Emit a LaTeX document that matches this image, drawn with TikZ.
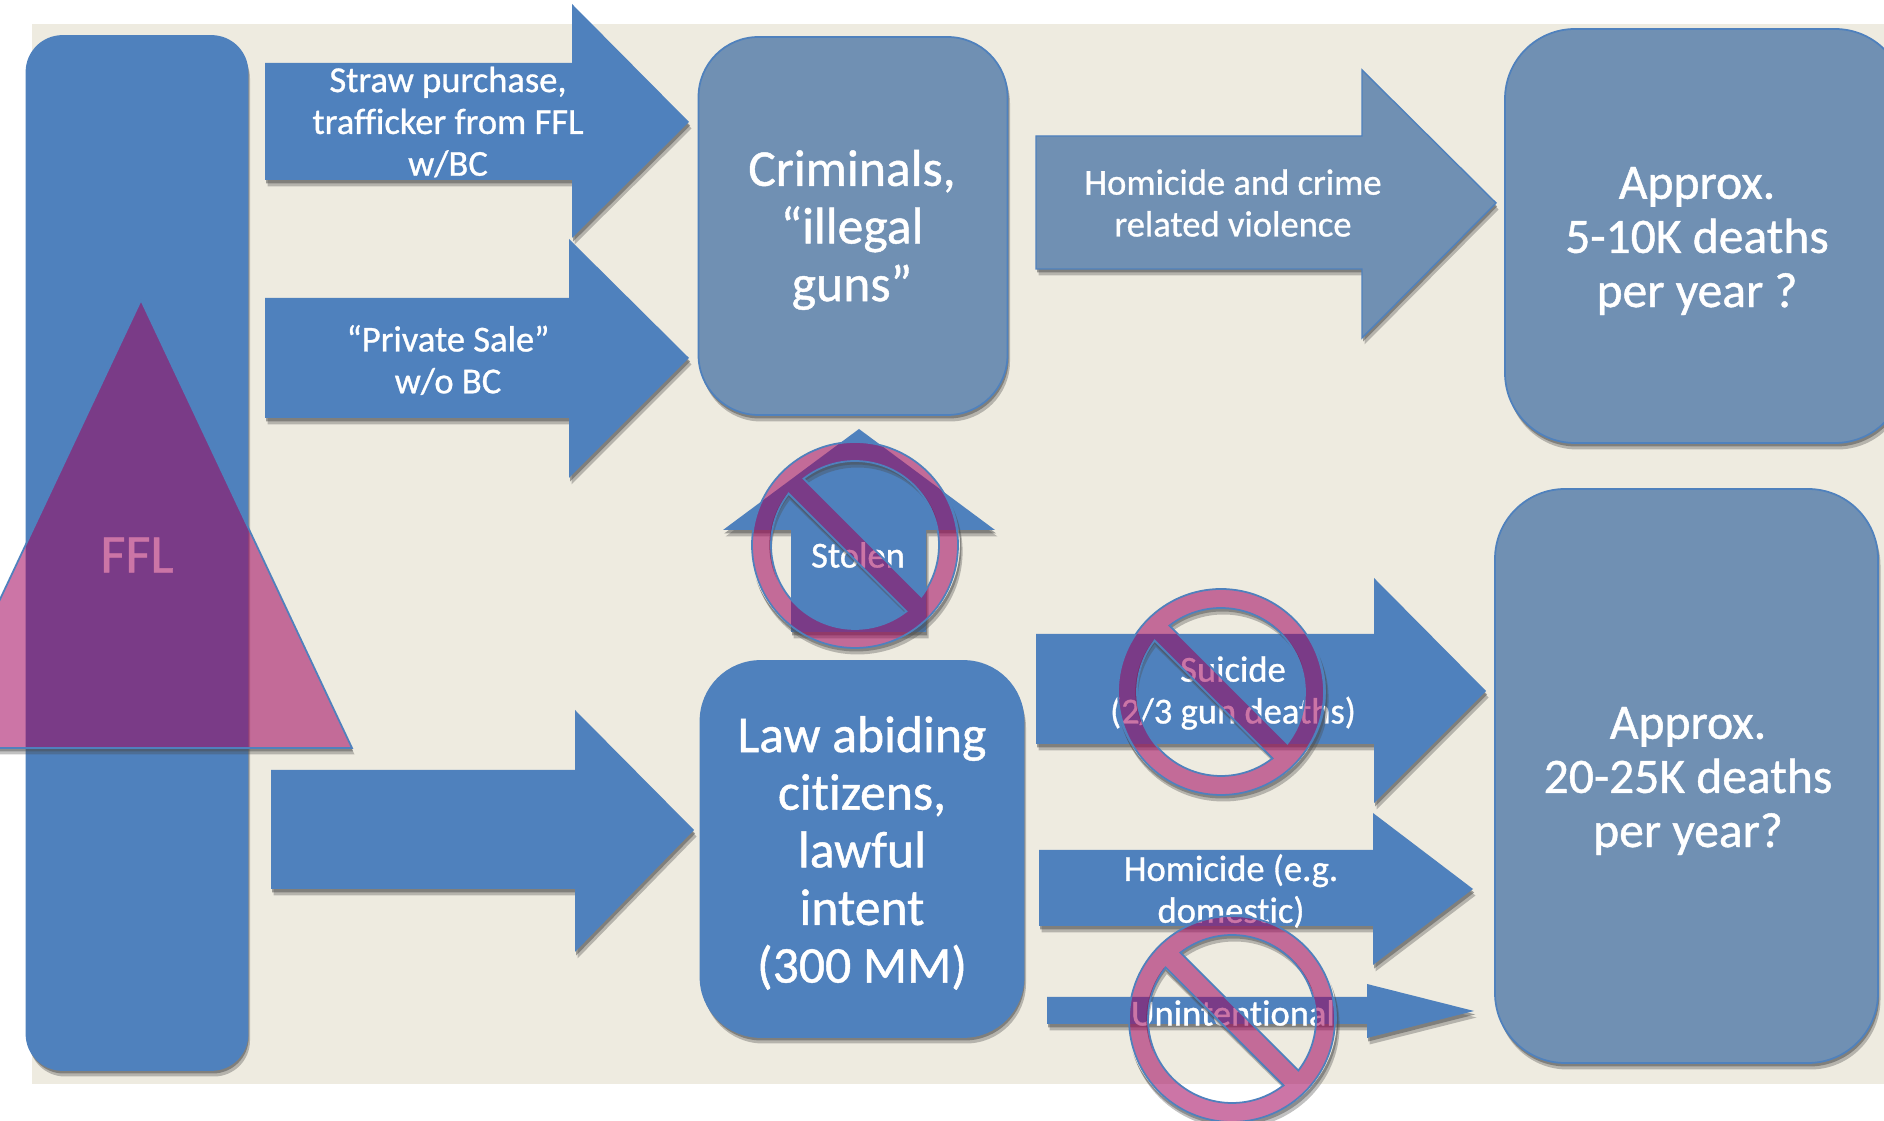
\documentclass[tikz,border=0pt]{standalone}
\usepackage{fontspec}
\setmainfont[FakeBold=0.9,Ligatures=NoCommon]{Carlito}
\usetikzlibrary{shadows}
\definecolor{panelbg}{HTML}{EEEBE0}
\definecolor{flowblue}{HTML}{4F81BD}
\definecolor{fadeblue}{HTML}{7090B3}
\definecolor{banpink}{HTML}{A0005B}
\tikzset{
  softshadow/.style={
    drop shadow={shadow xshift=0.025,shadow yshift=-0.065,opacity=0.35,fill=black!70},
    drop shadow={shadow xshift=0.012,shadow yshift=-0.035,opacity=0.5,fill=black!70}},
  bluearrow/.style={fill=flowblue,softshadow},
  fadearrow/.style={fill=fadeblue,draw=flowblue,line width=0.4pt,softshadow},
  bluebox/.style={rectangle,rounded corners=0.6cm,fill=flowblue,draw=flowblue,line width=0.5pt,inner sep=0pt,softshadow},
  fadebox/.style={bluebox,fill=fadeblue},
  smalltext/.style={text=white,align=center,inner sep=0pt,font=\fontsize{10.4}{11.9}\selectfont},
  midtext/.style={text=white,align=center,inner sep=0pt,font=\fontsize{14.1}{15.4}\selectfont},
  bigtext/.style={text=white,align=center,inner sep=0pt,font=\fontsize{14.7}{16.4}\selectfont},
  ffllabel/.style={text=white,inner sep=0pt,font=\fontsize{15.5}{16}\selectfont},
  banshape/.style={fill=banpink,fill opacity=0.54,draw=flowblue,line width=0.5pt},
  banshadowa/.style={fill=black!70,fill opacity=0.35,shift={(0.025,-0.065)}},
  banshadowb/.style={fill=black!70,fill opacity=0.45,shift={(0.012,-0.035)}},
  ringpath/.style={insert path={(0,0) circle (1.03)
      (127.8:0.84) arc[start angle=127.8,end angle=-37.8,radius=0.84] -- cycle
      (307.8:0.84) arc[start angle=307.8,delta angle=-165.6,radius=0.84] -- cycle}},
  tripath/.style={insert path={(1.41,-3.00) -- (3.52,-7.48) -- (-0.70,-7.48) -- cycle}},
  bansign/.pic={
    \begin{scope}[xscale=1.02,even odd rule]
      \clip[ringpath] (-5,5) rectangle (5,-5);
      \path[banshadowa,ringpath];
      \path[banshadowb,ringpath];
    \end{scope}
    \path[banshape,ringpath,xscale=1.02];
  }
}

\begin{document}
\begin{tikzpicture}
  \useasboundingbox (0,0) rectangle (18.84,-11.21);
  \fill[panelbg] (0.32,-0.24) rectangle (18.84,-10.84);

  \node[bluebox,minimum width=2.21cm,minimum height=10.34cm,rounded corners=0.36cm] (bar) at (1.37,-5.53) {};

  % arrows into the two groups
  \path[bluearrow] (2.65,-0.63) -- (5.72,-0.63) -- (5.72,-0.04) -- (6.89,-1.22) -- (5.72,-2.38) -- (5.72,-1.80) -- (2.65,-1.80) -- cycle;
  \path[bluearrow] (2.65,-2.98) -- (5.69,-2.98) -- (5.69,-2.39) -- (6.89,-3.58) -- (5.69,-4.78) -- (5.69,-4.18) -- (2.65,-4.18) -- cycle;
  \path[bluearrow] (2.71,-7.70) -- (5.75,-7.70) -- (5.75,-7.10) -- (6.94,-8.30) -- (5.75,-9.52) -- (5.75,-8.89) -- (2.71,-8.89) -- cycle;

  \node[fadebox,minimum width=3.09cm,minimum height=3.78cm] (criminals) at (8.53,-2.26) {};
  \node[bluebox,minimum width=3.23cm,minimum height=3.76cm] (lawful) at (8.62,-8.49) {};

  % up arrow between the groups
  \path[bluearrow] (7.91,-6.32) -- (7.91,-5.30) -- (7.23,-5.30) -- (8.59,-4.29) -- (9.95,-5.30) -- (9.26,-5.30) -- (9.26,-6.32) -- cycle;

  % arrows out to the deaths
  \path[fadearrow] (10.36,-1.36) -- (13.62,-1.36) -- (13.62,-0.70) -- (14.96,-2.03) -- (13.62,-3.38) -- (13.62,-2.69) -- (10.36,-2.69) -- cycle;
  \path[bluearrow] (10.36,-6.34) -- (13.74,-6.34) -- (13.74,-5.78) -- (14.86,-6.91) -- (13.74,-8.03) -- (13.74,-7.44) -- (10.36,-7.44) -- cycle;
  \path[bluearrow] (10.39,-8.50) -- (13.73,-8.50) -- (13.73,-8.13) -- (14.73,-8.89) -- (13.73,-9.65) -- (13.73,-9.26) -- (10.39,-9.26) -- cycle;
  \path[bluearrow] (10.47,-9.97) -- (13.67,-9.97) -- (13.67,-9.84) -- (14.74,-10.11) -- (13.67,-10.38) -- (13.67,-10.24) -- (10.47,-10.24) -- cycle;

  \node[fadebox,minimum width=4.00cm,minimum height=4.14cm,rounded corners=0.7cm] (deathstop) at (17.05,-2.36) {};
  \node[fadebox,minimum width=3.83cm,minimum height=5.74cm,rounded corners=0.7cm] (deathsbot) at (16.865,-7.76) {};

  \node[smalltext] (strawtext) at (4.48,-1.22) {Straw purchase,\\trafficker from FFL\\w/BC};
  \node[smalltext] (saletext) at (4.48,-3.60) {“Private Sale”\\w/o BC};
  \node[smalltext] (crimetext) at (12.33,-2.03) {Homicide and crime\\related violence};
  \node[smalltext] (stolentext) at (8.58,-5.55) {Stolen};
  \node[smalltext] (suicidetext) at (12.33,-6.93) {Suicide\\(2/3 gun deaths)};
  \node[smalltext] (domestictext) at (12.31,-8.91) {Homicide (e.g.\\domestic)};
  \node[smalltext] (accidenttext) at (12.33,-10.13) {Unintentional};
  \node[bigtext] (criminaltext) at (8.52,-2.30) {Criminals,\\“illegal\\guns”};
  \node[bigtext] (lawfultext) at (8.62,-8.53) {Law abiding\\citizens,\\lawful\\intent\\(300 MM)};
  \node[midtext] (toptext) at (16.97,-2.41) {Approx.\\5-10K deaths\\per year ?};
  \node[midtext] (bottext) at (16.88,-7.81) {Approx.\\20-25K deaths\\per year?};
  \node[ffllabel] (ffltext) at (1.37,-5.55) {FFL};

  \begin{scope}[even odd rule]
    \clip[tripath] (-5,5) rectangle (25,-15);
    \path[banshadowa,tripath];
    \path[banshadowb,tripath];
  \end{scope}
  \path[banshape,tripath];

  \pic (stolenban) at (8.55,-5.45) {bansign};
  \pic (suicideban) at (12.21,-6.92) {bansign};
  \pic (accidentban) at (12.32,-10.19) {bansign};
\end{tikzpicture}
\end{document}
